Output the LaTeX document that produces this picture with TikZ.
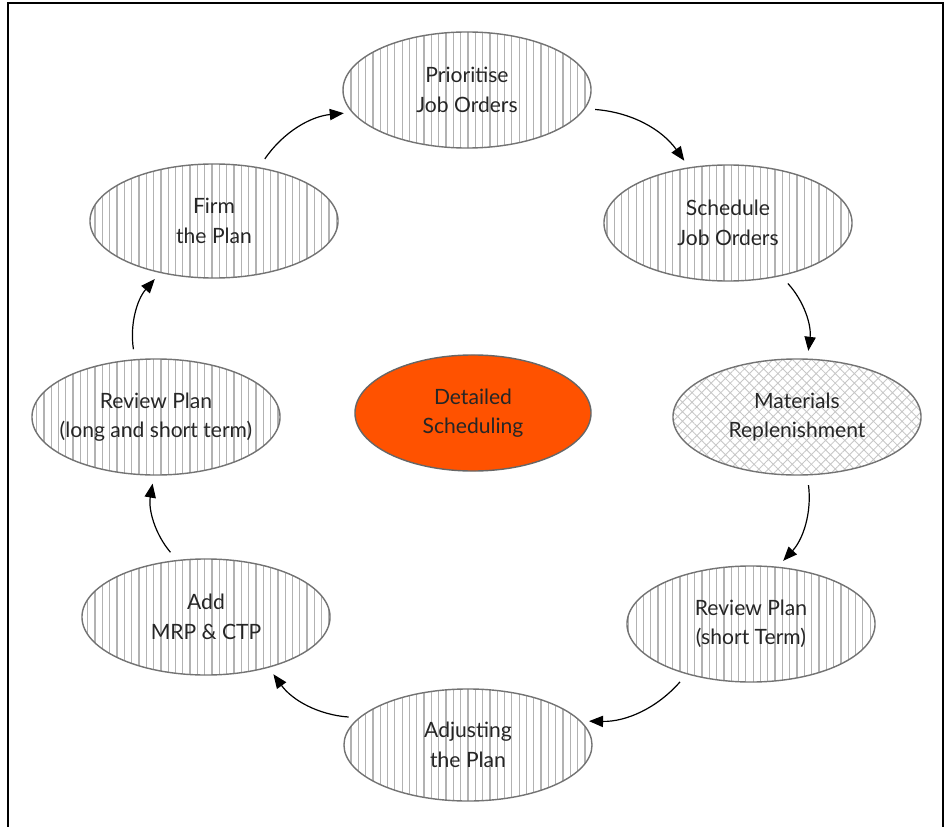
\documentclass[tikz,border=0pt]{standalone}
\usepackage{fontspec}
\setmainfont{Lato}
\usetikzlibrary{shapes.geometric, arrows.meta, patterns.meta}
\definecolor{dsorange}{RGB}{255,82,0}
\tikzset{
  task/.style={ellipse, draw=black!55, line width=1pt, minimum width=6.2cm, minimum height=2.9cm,
    inner sep=0pt, align=center, text=black!85, font=\fontsize{15}{21}\selectfont,
    pattern={Lines[angle=90, distance=5.2pt, line width=0.9pt]}, pattern color=black!30},
  mattask/.style={task, pattern={Hatch[angle=45, distance=4.8pt, line width=0.6pt]}, pattern color=black!22},
  flow/.style={-{Triangle[length=10pt, width=8pt]}, line width=0.85pt, shorten <=0.25cm, shorten >=0.2cm}
}
\begin{document}
\begin{tikzpicture}[x=0.025cm, y=-0.025cm]
\useasboundingbox (0,0) rectangle (947,827);
\clip (0,0) rectangle (947,827);
\draw [line width=1.4pt] (8,3) rectangle (943,840);
% the cycle
\node[task] (prio) at (467,90) {Prioritise\\Job Orders};
\node[task] (sched) at (728,223) {Schedule\\Job Orders};
\node[mattask] (mat) at (797,417) {Materials\\Replenishment};
\node[task] (revs) at (751,624) {Review Plan\\(short Term)};
\node[task, minimum height=2.8cm] (adj) at (468,745) {Adjusting\\the Plan};
\node[task] (add) at (206,617) {Add\\MRP \& CTP};
\node[task, inner xsep=-0.4cm] (revl) at (156,417) {Review Plan\\(long and short term)};
\node[task, minimum height=2.85cm] (firm) at (214,221) {Firm\\the Plan};
% centre
\node[task, pattern=none, fill=dsorange, draw=black!60, minimum width=5.9cm, minimum height=2.9cm] (ds) at (473,413) {Detailed\\Scheduling};
\draw [flow] (prio.-9) to[bend left=25] (sched.125);
\draw [flow] (sched.-45) to[bend left=25] (mat.80);
\draw [flow] (mat.-80) to[bend left=25] (revs.65);
\draw [flow] (revs.-142) to[bend left=25] (adj.12);
\draw [flow] (adj.166) to[bend left=25] (add.-39);
\draw [flow] (add.117) to[bend left=25] (revl.-92);
\draw [flow] (revl.110) to[bend left=25] (firm.-136);
\draw [flow] (firm.50) to[bend left=25] (prio.191);
\end{tikzpicture}
\end{document}
